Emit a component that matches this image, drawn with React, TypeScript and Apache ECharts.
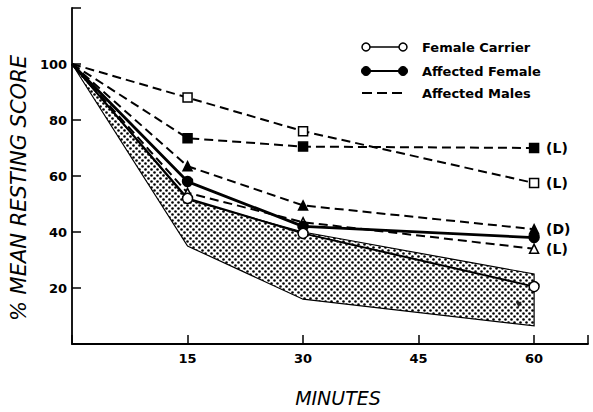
import React, { useEffect, useRef } from 'react';
import * as echarts from 'echarts';

// ---- data ----
const minutes = [0, 15, 30, 60];
const femaleCarrier = [100, 52, 39.5, 20.5];
const affectedFemale = [100, 58, 42, 38];
const maleOpenSquare = [100, 88, 76, 57.5];
const maleFilledSquare = [100, 73.5, 70.5, 70];
const maleFilledTriangle = [100, 63.5, 49.5, 41];
const maleOpenTriangle = [100, 54, 43.5, 34];
const maleEndLabels = ['(L)', '(L)', '(D)', '(L)'];
const bandMinutes = [0, 15, 30, 60];
const bandUpper = [100, 51.5, 40, 25];
const bandLower = [100, 35, 16, 6.5];
const extraPoint = [[58, 14]];
const xTickLabels = [15, 30, 45, 60];
const yTickLabels = [20, 40, 60, 80, 100];
const legendNames = ['Female Carrier', 'Affected Female', 'Affected Males'];

const FONT = 'DejaVu Sans';

function makeDotPattern() {
  const c = document.createElement('canvas');
  c.width = 6;
  c.height = 6;
  const ctx = c.getContext('2d');
  if (ctx) {
    ctx.fillStyle = '#ffffff';
    ctx.fillRect(0, 0, 6, 6);
    ctx.fillStyle = '#000000';
    ctx.beginPath();
    ctx.arc(1.5, 1.5, 1.3, 0, Math.PI * 2);
    ctx.fill();
    ctx.beginPath();
    ctx.arc(4.5, 4.5, 1.3, 0, Math.PI * 2);
    ctx.fill();
  }
  return { image: c, repeat: 'repeat' };
}

function lineSeries(
  name: string,
  ys: number[],
  symbol: string,
  filled: boolean,
  dashed: boolean,
  width: number,
  endText?: string
) {
  return {
    type: 'line',
    name,
    data: minutes.map((m, i) =>
      i === 0 ? { value: [m, ys[i]], symbol: 'none' } : [m, ys[i]]
    ),
    symbol,
    symbolSize: symbol === 'circle' ? 10 : 9,
    showSymbol: true,
    showAllSymbol: true,
    silent: true,
    z: 3,
    lineStyle: { color: '#000', width, type: dashed ? [9, 5] : 'solid' },
    itemStyle: {
      color: filled ? '#000' : '#fff',
      borderColor: '#000',
      borderWidth: 1.5,
    },
    endLabel: endText
      ? {
          show: true,
          formatter: endText,
          distance: 12,
          color: '#000',
          fontFamily: FONT,
          fontWeight: 'bold',
          fontSize: 14,
        }
      : { show: false },
  };
}

export default function App() {
  const ref = useRef<HTMLDivElement>(null);
  useEffect(() => {
    document.body.style.margin = '0';
    if (!ref.current) return;
    const chart = echarts.init(ref.current, undefined, { renderer: 'svg' });
    const pattern = makeDotPattern();

    const lx1 = 362;
    const lx2 = 405;
    const legendY = [47, 71, 93];
    const graphic: any[] = [];
    graphic.push({ type: 'line', shape: { x1: lx1, y1: legendY[0], x2: lx2, y2: legendY[0] }, style: { stroke: '#000', lineWidth: 1.5 } });
    graphic.push({ type: 'circle', shape: { cx: lx1 + 4, cy: legendY[0], r: 4 }, style: { fill: '#fff', stroke: '#000', lineWidth: 1.5 } });
    graphic.push({ type: 'circle', shape: { cx: lx2 - 2, cy: legendY[0], r: 4 }, style: { fill: '#fff', stroke: '#000', lineWidth: 1.5 } });
    graphic.push({ type: 'line', shape: { x1: lx1, y1: legendY[1], x2: lx2, y2: legendY[1] }, style: { stroke: '#000', lineWidth: 2 } });
    graphic.push({ type: 'circle', shape: { cx: lx1 + 4, cy: legendY[1], r: 4.5 }, style: { fill: '#000', stroke: '#000', lineWidth: 1 } });
    graphic.push({ type: 'circle', shape: { cx: lx2 - 2, cy: legendY[1], r: 4.5 }, style: { fill: '#000', stroke: '#000', lineWidth: 1 } });
    graphic.push({ type: 'line', shape: { x1: lx1, y1: legendY[2], x2: lx2 + 2, y2: legendY[2] }, style: { stroke: '#000', lineWidth: 2, lineDash: [10, 5] } });
    legendNames.forEach((n, i) => {
      graphic.push({
        type: 'text',
        x: 422,
        y: legendY[i],
        style: { text: n, fill: '#000', font: `bold 13px "${FONT}"`, textVerticalAlign: 'middle', textAlign: 'left' },
      });
    });

    const option: any = {
      animation: false,
      grid: { left: 72, right: 5, top: 8, bottom: 59, containLabel: false },
      xAxis: {
        type: 'value',
        min: 0,
        max: 67,
        interval: 15,
        name: 'MINUTES',
        nameLocation: 'middle',
        nameGap: 44,
        nameTextStyle: { fontFamily: FONT, fontStyle: 'italic', fontSize: 19, color: '#000', padding: [0, 0, 0, 16] },
        axisLine: { lineStyle: { color: '#000', width: 1.8 } },
        axisTick: { inside: true, length: 9, lineStyle: { color: '#000', width: 1.5 } },
        axisLabel: {
          margin: 8,
          color: '#000',
          fontFamily: FONT,
          fontWeight: 'bold',
          fontSize: 13,
          formatter: (v: number) => (xTickLabels.includes(v) ? String(v) : ''),
        },
        splitLine: { show: false },
      },
      yAxis: {
        type: 'value',
        min: 0,
        max: 120,
        interval: 20,
        name: '% MEAN RESTING SCORE',
        nameLocation: 'middle',
        nameGap: 33,
        nameTextStyle: { fontFamily: FONT, fontStyle: 'italic', fontSize: 21, color: '#000', padding: [0, 24, 0, 0] },
        axisLine: { lineStyle: { color: '#000', width: 1.8 } },
        axisTick: { inside: true, length: 9, lineStyle: { color: '#000', width: 1.5 } },
        axisLabel: {
          margin: 5,
          color: '#000',
          fontFamily: FONT,
          fontWeight: 'bold',
          fontSize: 13,
          formatter: (v: number) => (yTickLabels.includes(v) ? String(v) : ''),
        },
        splitLine: { show: false },
      },
      graphic,
      series: [
        {
          type: 'custom',
          name: 'range',
          silent: true,
          z: 1,
          data: [[0, 0]],
          renderItem: (params: any, api: any) => {
            const up = bandMinutes.map((m, i) => api.coord([m, bandUpper[i]]));
            const lo = bandMinutes.map((m, i) => api.coord([m, bandLower[i]])).reverse();
            return {
              type: 'polygon',
              shape: { points: up.concat(lo) },
              style: { fill: pattern, stroke: '#000', lineWidth: 1.2 },
            };
          },
        },
        lineSeries('Affected Males 1', maleOpenSquare, 'rect', false, true, 2, maleEndLabels[1]),
        lineSeries('Affected Males 2', maleFilledSquare, 'rect', true, true, 2, maleEndLabels[0]),
        lineSeries('Affected Males 3', maleFilledTriangle, 'triangle', true, true, 2, maleEndLabels[2]),
        lineSeries('Affected Males 4', maleOpenTriangle, 'triangle', false, true, 2, maleEndLabels[3]),
        lineSeries('Affected Female', affectedFemale, 'circle', true, false, 2.8),
        lineSeries('Female Carrier', femaleCarrier, 'circle', false, false, 2),
        {
          type: 'scatter',
          name: 'mark',
          silent: true,
          z: 2,
          data: extraPoint,
          symbol: 'triangle',
          symbolRotate: 180,
          symbolSize: 6,
          itemStyle: { color: '#000' },
        },
      ],
    };
    chart.setOption(option);
    return () => chart.dispose();
  }, []);
  return <div ref={ref} style={{ width: 593, height: 412, position: 'absolute', left: 0, top: 0 }} />;
}
